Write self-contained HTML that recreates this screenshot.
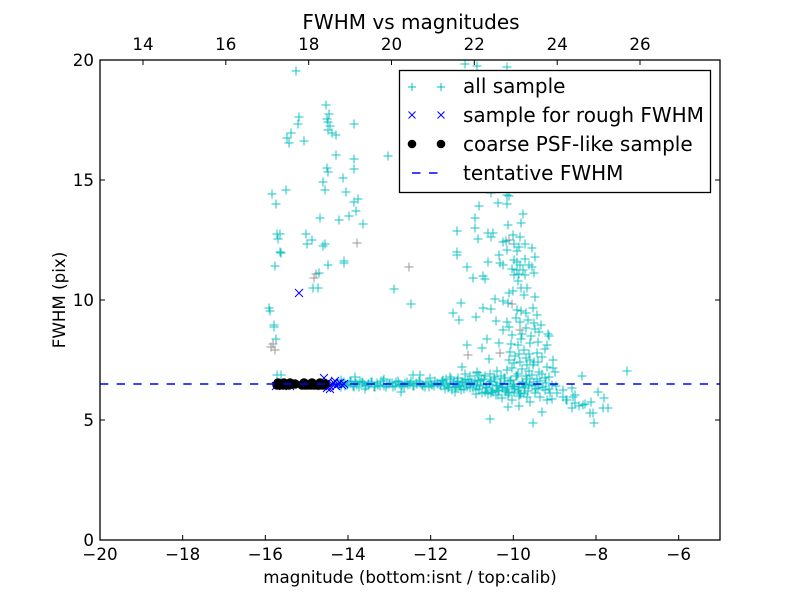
<!DOCTYPE html>
<html><head><meta charset="utf-8"><style>
html,body{margin:0;padding:0;background:#fff;}
svg{display:block;font-family:"DejaVu Sans","Liberation Sans",sans-serif;}
</style></head><body>
<svg width="800" height="600" viewBox="0 0 800 600" xmlns="http://www.w3.org/2000/svg">
<defs>
<path id="p" d="M-4.5 0h9M0 -4.5v9" stroke-width="1"/>
<path id="x" d="M-4 -4L4 4M-4 4L4 -4" stroke-width="1"/>
<clipPath id="ax"><rect x="100" y="60" width="620" height="480"/></clipPath>
</defs>
<rect width="800" height="600" fill="#fff"/>
<g clip-path="url(#ax)">
<g stroke="#808080" fill="none" opacity="0.8">
<use href="#p" x="357" y="243"/><use href="#p" x="316" y="274"/><use href="#p" x="409" y="267"/>
<use href="#p" x="273" y="344"/><use href="#p" x="275" y="350"/><use href="#p" x="271" y="347"/>
<use href="#p" x="512" y="304"/><use href="#p" x="509" y="240"/><use href="#p" x="520" y="330"/>
<use href="#p" x="500" y="353"/><use href="#p" x="468" y="355"/><use href="#p" x="314" y="278"/>
</g>
<g stroke="#00bfbf" fill="none" opacity="0.9">
<use href="#p" x="296" y="71"/><use href="#p" x="326" y="105"/><use href="#p" x="299" y="117"/><use href="#p" x="329" y="114"/>
<use href="#p" x="327" y="119"/><use href="#p" x="328" y="122"/><use href="#p" x="298" y="124"/><use href="#p" x="354" y="124"/>
<use href="#p" x="330" y="126"/><use href="#p" x="291" y="133"/><use href="#p" x="328" y="130"/><use href="#p" x="332" y="133"/>
<use href="#p" x="336" y="135"/><use href="#p" x="287" y="138"/><use href="#p" x="289" y="143"/><use href="#p" x="304" y="141"/>
<use href="#p" x="336" y="155"/><use href="#p" x="354" y="159"/><use href="#p" x="327" y="168"/><use href="#p" x="328" y="172"/>
<use href="#p" x="354" y="169"/><use href="#p" x="343" y="178"/><use href="#p" x="323" y="182"/><use href="#p" x="325" y="190"/>
<use href="#p" x="286" y="190"/><use href="#p" x="272" y="194"/><use href="#p" x="276" y="204"/><use href="#p" x="346" y="192"/>
<use href="#p" x="358" y="199"/><use href="#p" x="354" y="202"/><use href="#p" x="356" y="211"/><use href="#p" x="349" y="216"/>
<use href="#p" x="320" y="218"/><use href="#p" x="339" y="220"/><use href="#p" x="363" y="224"/><use href="#p" x="388" y="156"/>
<use href="#p" x="277" y="234"/><use href="#p" x="280" y="234"/><use href="#p" x="278" y="239"/><use href="#p" x="306" y="234"/>
<use href="#p" x="312" y="240"/><use href="#p" x="307" y="244"/><use href="#p" x="323" y="246"/><use href="#p" x="325" y="244"/>
<use href="#p" x="280" y="252"/><use href="#p" x="275" y="266"/><use href="#p" x="328" y="265"/><use href="#p" x="344" y="261"/>
<use href="#p" x="344" y="263"/><use href="#p" x="313" y="288"/><use href="#p" x="318" y="288"/><use href="#p" x="394" y="289"/>
<use href="#p" x="411" y="304"/><use href="#p" x="269" y="308"/><use href="#p" x="270" y="311"/><use href="#p" x="274" y="325"/>
<use href="#p" x="274" y="327"/><use href="#p" x="276" y="339"/><use href="#p" x="277" y="375"/><use href="#p" x="281" y="375"/>
<use href="#p" x="281" y="253"/><use href="#p" x="319" y="273"/>
<use href="#p" x="465" y="64"/><use href="#p" x="477" y="66"/><use href="#p" x="507" y="67"/>
<use href="#p" x="491" y="193"/><use href="#p" x="507" y="195"/><use href="#p" x="509" y="196"/><use href="#p" x="507" y="204"/>
<use href="#p" x="498" y="203"/><use href="#p" x="479" y="206"/><use href="#p" x="523" y="214"/><use href="#p" x="475" y="218"/>
<use href="#p" x="521" y="223"/><use href="#p" x="508" y="225"/><use href="#p" x="457" y="231"/><use href="#p" x="475" y="228"/>
<use href="#p" x="488" y="233"/><use href="#p" x="493" y="233"/><use href="#p" x="478" y="239"/><use href="#p" x="491" y="237"/>
<use href="#p" x="513" y="235"/><use href="#p" x="520" y="237"/><use href="#p" x="503" y="242"/><use href="#p" x="506" y="241"/>
<use href="#p" x="514" y="244"/><use href="#p" x="519" y="247"/><use href="#p" x="525" y="244"/><use href="#p" x="532" y="248"/>
<use href="#p" x="507" y="250"/><use href="#p" x="517" y="251"/><use href="#p" x="457" y="252"/><use href="#p" x="457" y="255"/>
<use href="#p" x="499" y="255"/><use href="#p" x="535" y="257"/><use href="#p" x="488" y="262"/><use href="#p" x="500" y="263"/>
<use href="#p" x="503" y="265"/><use href="#p" x="514" y="260"/><use href="#p" x="517" y="262"/><use href="#p" x="520" y="265"/>
<use href="#p" x="525" y="259"/><use href="#p" x="529" y="265"/><use href="#p" x="467" y="267"/><use href="#p" x="512" y="269"/>
<use href="#p" x="517" y="270"/><use href="#p" x="523" y="270"/><use href="#p" x="532" y="267"/><use href="#p" x="514" y="275"/>
<use href="#p" x="519" y="274"/><use href="#p" x="525" y="275"/><use href="#p" x="534" y="273"/><use href="#p" x="473" y="278"/>
<use href="#p" x="483" y="276"/><use href="#p" x="485" y="279"/><use href="#p" x="518" y="281"/><use href="#p" x="521" y="288"/>
<use href="#p" x="527" y="288"/><use href="#p" x="509" y="293"/><use href="#p" x="513" y="291"/><use href="#p" x="524" y="295"/>
<use href="#p" x="535" y="297"/><use href="#p" x="495" y="299"/><use href="#p" x="503" y="301"/><use href="#p" x="508" y="303"/>
<use href="#p" x="461" y="303"/><use href="#p" x="483" y="308"/><use href="#p" x="491" y="309"/><use href="#p" x="517" y="310"/>
<use href="#p" x="521" y="311"/><use href="#p" x="526" y="313"/><use href="#p" x="533" y="308"/><use href="#p" x="537" y="315"/>
<use href="#p" x="453" y="313"/><use href="#p" x="459" y="320"/><use href="#p" x="476" y="317"/><use href="#p" x="507" y="322"/>
<use href="#p" x="520" y="322"/><use href="#p" x="534" y="323"/><use href="#p" x="509" y="327"/><use href="#p" x="526" y="328"/>
<use href="#p" x="535" y="329"/><use href="#p" x="539" y="332"/><use href="#p" x="512" y="335"/><use href="#p" x="522" y="334"/>
<use href="#p" x="548" y="334"/><use href="#p" x="521" y="339"/><use href="#p" x="530" y="343"/><use href="#p" x="538" y="342"/>
<use href="#p" x="549" y="336"/><use href="#p" x="487" y="339"/><use href="#p" x="467" y="345"/><use href="#p" x="499" y="343"/>
<use href="#p" x="482" y="348"/><use href="#p" x="518" y="345"/><use href="#p" x="547" y="345"/><use href="#p" x="510" y="352"/>
<use href="#p" x="519" y="354"/><use href="#p" x="529" y="354"/><use href="#p" x="537" y="353"/><use href="#p" x="545" y="349"/>
<use href="#p" x="489" y="359"/><use href="#p" x="509" y="360"/><use href="#p" x="514" y="363"/><use href="#p" x="520" y="362"/>
<use href="#p" x="530" y="360"/><use href="#p" x="534" y="362"/><use href="#p" x="542" y="357"/><use href="#p" x="553" y="360"/>
<use href="#p" x="527" y="365"/><use href="#p" x="533" y="365"/><use href="#p" x="462" y="367"/><use href="#p" x="547" y="367"/>
<use href="#p" x="553" y="368"/><use href="#p" x="497" y="371"/><use href="#p" x="507" y="370"/><use href="#p" x="529" y="371"/>
<use href="#p" x="539" y="372"/><use href="#p" x="555" y="372"/><use href="#p" x="477" y="373"/><use href="#p" x="532" y="375"/>
<use href="#p" x="542" y="374"/><use href="#p" x="545" y="378"/><use href="#p" x="549" y="377"/><use href="#p" x="582" y="376"/>
<use href="#p" x="627" y="371"/>
<use href="#p" x="516" y="318"/><use href="#p" x="528" y="320"/><use href="#p" x="511" y="344"/><use href="#p" x="524" y="350"/>
<use href="#p" x="515" y="356"/><use href="#p" x="526" y="358"/><use href="#p" x="538" y="362"/><use href="#p" x="512" y="368"/>
<use href="#p" x="522" y="369"/><use href="#p" x="518" y="374"/><use href="#p" x="526" y="376"/><use href="#p" x="537" y="379"/>
<use href="#p" x="501" y="376"/><use href="#p" x="490" y="374"/><use href="#p" x="470" y="376"/><use href="#p" x="465" y="374"/>
<use href="#p" x="531" y="336"/><use href="#p" x="541" y="325"/><use href="#p" x="503" y="330"/><use href="#p" x="496" y="321"/>
<use href="#p" x="491" y="393"/><use href="#p" x="498" y="391"/><use href="#p" x="508" y="395"/><use href="#p" x="519" y="396"/>
<use href="#p" x="527" y="397"/><use href="#p" x="535" y="393"/><use href="#p" x="540" y="397"/><use href="#p" x="547" y="400"/>
<use href="#p" x="552" y="399"/><use href="#p" x="557" y="393"/><use href="#p" x="563" y="390"/><use href="#p" x="572" y="388"/>
<use href="#p" x="566" y="400"/><use href="#p" x="573" y="397"/><use href="#p" x="575" y="403"/><use href="#p" x="583" y="405"/>
<use href="#p" x="591" y="402"/><use href="#p" x="598" y="392"/><use href="#p" x="604" y="398"/><use href="#p" x="603" y="408"/>
<use href="#p" x="608" y="408"/><use href="#p" x="593" y="413"/><use href="#p" x="594" y="423"/><use href="#p" x="590" y="413"/>
<use href="#p" x="579" y="406"/><use href="#p" x="572" y="408"/><use href="#p" x="542" y="412"/><use href="#p" x="533" y="423"/>
<use href="#p" x="508" y="407"/><use href="#p" x="519" y="406"/><use href="#p" x="490" y="419"/><use href="#p" x="585" y="404"/>
<use href="#p" x="575" y="395"/><use href="#p" x="567" y="400"/><use href="#p" x="563" y="397"/><use href="#p" x="530" y="402"/>
<use href="#p" x="512" y="400"/><use href="#p" x="502" y="398"/><use href="#p" x="545" y="390"/><use href="#p" x="556" y="386"/>
<use href="#p" x="514" y="392"/><use href="#p" x="524" y="393"/><use href="#p" x="505" y="390"/><use href="#p" x="496" y="395"/>
<use href="#p" x="485" y="392"/><use href="#p" x="476" y="394"/><use href="#p" x="538" y="388"/><use href="#p" x="550" y="393"/>
<use href="#p" x="338" y="384"/><use href="#p" x="341" y="387"/><use href="#p" x="344" y="382"/><use href="#p" x="347" y="385"/>
<use href="#p" x="350" y="381"/><use href="#p" x="353" y="386"/><use href="#p" x="356" y="383"/><use href="#p" x="359" y="387"/>
<use href="#p" x="362" y="382"/><use href="#p" x="365" y="385"/><use href="#p" x="368" y="384"/><use href="#p" x="371" y="382"/>
<use href="#p" x="374" y="387"/><use href="#p" x="377" y="383"/><use href="#p" x="380" y="386"/><use href="#p" x="383" y="381"/>
<use href="#p" x="386" y="387"/><use href="#p" x="389" y="384"/><use href="#p" x="392" y="383"/><use href="#p" x="395" y="386"/>
<use href="#p" x="398" y="381"/><use href="#p" x="401" y="385"/><use href="#p" x="404" y="387"/><use href="#p" x="407" y="382"/>
<use href="#p" x="410" y="384"/><use href="#p" x="413" y="386"/><use href="#p" x="416" y="383"/><use href="#p" x="419" y="381"/>
<use href="#p" x="422" y="385"/><use href="#p" x="425" y="387"/><use href="#p" x="428" y="382"/><use href="#p" x="431" y="384"/>
<use href="#p" x="434" y="386"/><use href="#p" x="437" y="383"/><use href="#p" x="440" y="385"/>
<use href="#p" x="339" y="385"/><use href="#p" x="342" y="383"/><use href="#p" x="345" y="386"/><use href="#p" x="348" y="384"/>
<use href="#p" x="351" y="382"/><use href="#p" x="354" y="387"/><use href="#p" x="357" y="385"/><use href="#p" x="360" y="381"/>
<use href="#p" x="363" y="383"/><use href="#p" x="366" y="386"/><use href="#p" x="369" y="384"/><use href="#p" x="372" y="382"/>
<use href="#p" x="375" y="387"/><use href="#p" x="378" y="385"/><use href="#p" x="381" y="381"/><use href="#p" x="384" y="386"/>
<use href="#p" x="387" y="384"/><use href="#p" x="390" y="383"/><use href="#p" x="393" y="387"/><use href="#p" x="396" y="382"/>
<use href="#p" x="399" y="384"/><use href="#p" x="402" y="386"/><use href="#p" x="405" y="383"/><use href="#p" x="408" y="385"/>
<use href="#p" x="411" y="381"/><use href="#p" x="414" y="386"/><use href="#p" x="417" y="384"/><use href="#p" x="420" y="383"/>
<use href="#p" x="423" y="386"/><use href="#p" x="426" y="382"/><use href="#p" x="429" y="387"/><use href="#p" x="432" y="385"/>
<use href="#p" x="435" y="381"/><use href="#p" x="438" y="384"/>
<use href="#p" x="413" y="375"/><use href="#p" x="420" y="375"/><use href="#p" x="341" y="380"/><use href="#p" x="355" y="377"/>
<use href="#p" x="365" y="389"/><use href="#p" x="401" y="392"/><use href="#p" x="384" y="379"/><use href="#p" x="430" y="378"/>
<use href="#p" x="450" y="377"/><use href="#p" x="477" y="372"/><use href="#p" x="479" y="375"/><use href="#p" x="455" y="392"/>
<use href="#p" x="441" y="386"/><use href="#p" x="443" y="380"/><use href="#p" x="445" y="389"/><use href="#p" x="447" y="383"/>
<use href="#p" x="449" y="387"/><use href="#p" x="451" y="379"/><use href="#p" x="453" y="384"/><use href="#p" x="455" y="388"/>
<use href="#p" x="457" y="381"/><use href="#p" x="459" y="385"/><use href="#p" x="461" y="390"/><use href="#p" x="463" y="382"/>
<use href="#p" x="465" y="379"/><use href="#p" x="467" y="387"/><use href="#p" x="469" y="384"/><use href="#p" x="471" y="383"/>
<use href="#p" x="473" y="388"/><use href="#p" x="475" y="380"/><use href="#p" x="477" y="386"/><use href="#p" x="479" y="389"/>
<use href="#p" x="481" y="380"/><use href="#p" x="483" y="385"/><use href="#p" x="485" y="376"/><use href="#p" x="487" y="388"/>
<use href="#p" x="489" y="384"/><use href="#p" x="491" y="381"/><use href="#p" x="493" y="392"/><use href="#p" x="495" y="379"/>
<use href="#p" x="497" y="385"/><use href="#p" x="499" y="390"/><use href="#p" x="501" y="383"/><use href="#p" x="503" y="388"/>
<use href="#p" x="505" y="378"/><use href="#p" x="507" y="387"/><use href="#p" x="509" y="393"/><use href="#p" x="511" y="380"/>
<use href="#p" x="513" y="384"/><use href="#p" x="515" y="389"/><use href="#p" x="517" y="376"/><use href="#p" x="519" y="387"/>
<use href="#p" x="521" y="394"/><use href="#p" x="523" y="383"/><use href="#p" x="525" y="388"/><use href="#p" x="527" y="379"/>
<use href="#p" x="529" y="385"/>
<use href="#p" x="442" y="381"/><use href="#p" x="444" y="385"/><use href="#p" x="446" y="379"/><use href="#p" x="448" y="388"/>
<use href="#p" x="450" y="384"/><use href="#p" x="452" y="390"/><use href="#p" x="454" y="382"/><use href="#p" x="456" y="387"/>
<use href="#p" x="458" y="378"/><use href="#p" x="460" y="386"/><use href="#p" x="462" y="383"/><use href="#p" x="464" y="389"/>
<use href="#p" x="466" y="385"/><use href="#p" x="468" y="380"/><use href="#p" x="470" y="388"/><use href="#p" x="472" y="382"/>
<use href="#p" x="474" y="384"/><use href="#p" x="476" y="390"/><use href="#p" x="478" y="381"/><use href="#p" x="480" y="385"/>
<use href="#p" x="482" y="393"/><use href="#p" x="484" y="379"/><use href="#p" x="486" y="387"/><use href="#p" x="488" y="394"/>
<use href="#p" x="490" y="382"/><use href="#p" x="492" y="390"/><use href="#p" x="494" y="377"/><use href="#p" x="496" y="386"/>
<use href="#p" x="498" y="395"/><use href="#p" x="500" y="383"/><use href="#p" x="502" y="388"/><use href="#p" x="504" y="378"/>
<use href="#p" x="506" y="392"/><use href="#p" x="508" y="384"/><use href="#p" x="510" y="381"/><use href="#p" x="512" y="389"/>
<use href="#p" x="514" y="386"/><use href="#p" x="516" y="376"/><use href="#p" x="518" y="390"/><use href="#p" x="520" y="394"/>
<use href="#p" x="522" y="382"/><use href="#p" x="524" y="388"/><use href="#p" x="526" y="384"/><use href="#p" x="528" y="391"/>
<use href="#p" x="530" y="379"/><use href="#p" x="532" y="386"/><use href="#p" x="534" y="382"/><use href="#p" x="536" y="389"/>
<use href="#p" x="538" y="385"/><use href="#p" x="540" y="381"/><use href="#p" x="543" y="387"/><use href="#p" x="546" y="383"/>
<use href="#p" x="549" y="389"/><use href="#p" x="552" y="385"/>
</g>
<g stroke="#0000ff" fill="none">
<use href="#x" x="299" y="293"/><use href="#x" x="324" y="378"/>
<use href="#x" x="280" y="384"/><use href="#x" x="290" y="386"/><use href="#x" x="305" y="384"/><use href="#x" x="315" y="385"/>
<use href="#x" x="322" y="386"/><use href="#x" x="323" y="383"/><use href="#x" x="326" y="385"/><use href="#x" x="328" y="382"/>
<use href="#x" x="330" y="386"/><use href="#x" x="332" y="384"/><use href="#x" x="334" y="383"/><use href="#x" x="336" y="386"/>
<use href="#x" x="338" y="384"/><use href="#x" x="340" y="383"/><use href="#x" x="342" y="385"/><use href="#x" x="344" y="384"/>
<use href="#x" x="327" y="388"/><use href="#x" x="335" y="381"/><use href="#x" x="330" y="389"/><use href="#x" x="276" y="386"/>
</g>
<g fill="#000">
<circle cx="277" cy="385" r="4.7"/><circle cx="280" cy="385" r="4.7"/><circle cx="283" cy="385" r="4.7"/><circle cx="286" cy="385" r="4.7"/>
<circle cx="289" cy="385" r="4.7"/><circle cx="292" cy="384" r="4.7"/><circle cx="295" cy="384" r="4.7"/>
<circle cx="278" cy="383" r="4.7"/><circle cx="284" cy="383" r="4.7"/><circle cx="290" cy="383" r="4.7"/>
<circle cx="302" cy="385" r="4.7"/><circle cx="305" cy="385" r="4.7"/><circle cx="308" cy="385" r="4.7"/><circle cx="311" cy="385" r="4.7"/>
<circle cx="314" cy="385" r="4.7"/><circle cx="317" cy="385" r="4.7"/><circle cx="320" cy="385" r="4.7"/><circle cx="323" cy="385" r="4.7"/>
<circle cx="325" cy="384" r="4.7"/><circle cx="304" cy="383" r="4.7"/><circle cx="312" cy="383" r="4.7"/><circle cx="320" cy="383" r="4.7"/>
</g>
<line x1="100" y1="384" x2="720" y2="384" stroke="#0000ff" stroke-width="1.6" stroke-dasharray="8.33 8.33"/>
</g>
<rect x="100" y="60" width="620" height="480" fill="none" stroke="#000" stroke-width="1.3"/>
<g stroke="#000" stroke-width="1">
<path d="M182.7 540v-5M265.3 540v-5M348 540v-5M430.7 540v-5M513.3 540v-5M596 540v-5M678.7 540v-5"/>
<path d="M143 60v5M225.8 60v5M308.7 60v5M391.5 60v5M474.3 60v5M557.2 60v5M640 60v5"/>
<path d="M100 420h5M100 300h5M100 180h5M720 420h-5M720 300h-5M720 180h-5"/>
</g>
<g font-size="16.7" fill="#000" text-anchor="middle">
<text x="100" y="560">−20</text><text x="182.7" y="560">−18</text><text x="265.3" y="560">−16</text><text x="348" y="560">−14</text>
<text x="430.7" y="560">−12</text><text x="513.3" y="560">−10</text><text x="596" y="560">−8</text><text x="678.7" y="560">−6</text>
<text x="143" y="50">14</text><text x="225.8" y="50">16</text><text x="308.7" y="50">18</text><text x="391.5" y="50">20</text>
<text x="474.3" y="50">22</text><text x="557.2" y="50">24</text><text x="640" y="50">26</text>
</g>
<g font-size="16.7" fill="#000" text-anchor="end">
<text x="94" y="546">0</text><text x="94" y="426">5</text><text x="94" y="306">10</text><text x="94" y="186">15</text><text x="94" y="66">20</text>
</g>
<text x="410" y="583" font-size="16.7" text-anchor="middle">magnitude (bottom:isnt / top:calib)</text>
<text transform="translate(65,300) rotate(-90)" font-size="16.7" text-anchor="middle">FWHM (pix)</text>
<text x="411" y="29" font-size="20" text-anchor="middle">FWHM vs magnitudes</text>
<rect x="399.5" y="70.5" width="311" height="122" fill="#fff" stroke="#000" stroke-width="1.3"/>
<g stroke="#00bfbf" fill="none"><path d="M408 87h8M412 83v8M437 87h8M441 83v8"/></g>
<g stroke="#0000ff" fill="none"><path d="M408.5 111.5l7 7M408.5 118.5l7 -7M437.5 111.5l7 7M437.5 118.5l7 -7"/></g>
<circle cx="412" cy="144" r="4.3" fill="#000"/><circle cx="441" cy="144" r="4.3" fill="#000"/>
<line x1="412" y1="173" x2="441" y2="173" stroke="#0000ff" stroke-width="1.6" stroke-dasharray="8.5 8.5"/>
<g font-size="20" fill="#000">
<text x="463" y="93">all sample</text>
<text x="463" y="122">sample for rough FWHM</text>
<text x="463" y="151">coarse PSF-like sample</text>
<text x="463" y="180">tentative FWHM</text>
</g>
</svg>
</body></html>
